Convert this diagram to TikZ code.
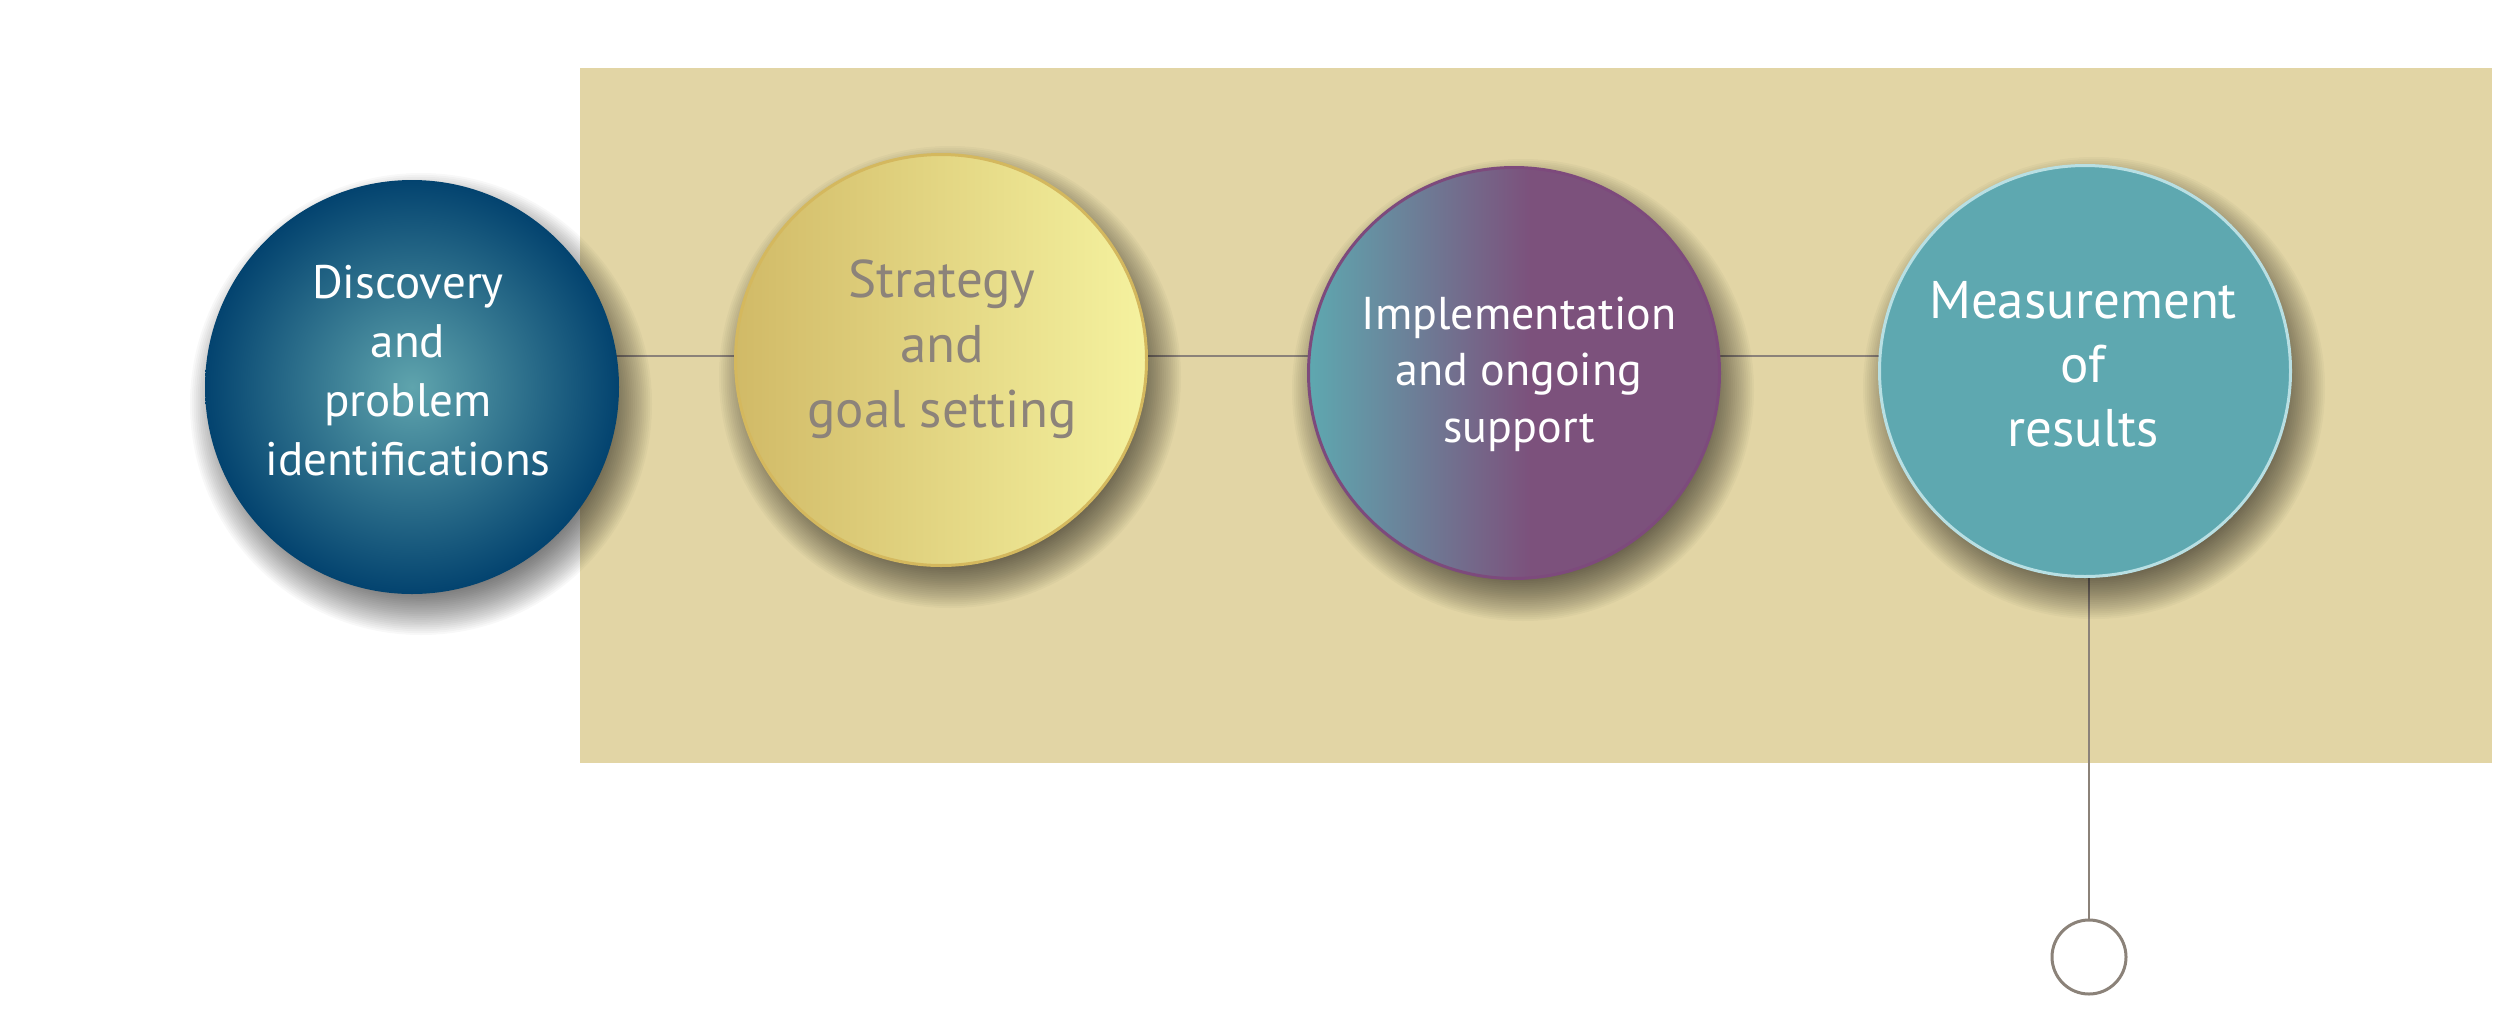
\documentclass[tikz,border=0pt]{standalone}
\usepackage{fontspec}
\setmainfont{PT Sans}
\definecolor{rectbg}{HTML}{E2D5A5}
\definecolor{linegray}{HTML}{8B8279}
\definecolor{discin}{HTML}{5FA4AD}
\definecolor{discout}{HTML}{03436F}
\definecolor{goldL}{HTML}{D1BA67}
\definecolor{goldR}{HTML}{F5F29F}
\definecolor{goldB}{HTML}{D4B85E}
\definecolor{txtgray}{HTML}{8C837A}
\definecolor{implL}{HTML}{5EA8B0}
\definecolor{implR}{HTML}{7C517C}
\definecolor{implB}{HTML}{7D4A7C}
\definecolor{measF}{HTML}{5EA8B0}
\definecolor{measB}{HTML}{B8DFE3}
\pgfdeclarehorizontalshading{implshade}{100bp}{color(0bp)=(implL); color(25bp)=(implL); color(52bp)=(implR); color(100bp)=(implR)}
\begin{document}
\begin{tikzpicture}[x=1pt,y=-1pt,
  stage/.style={circle, minimum size=414pt, inner sep=0pt},
  ringed/.style={minimum size=411pt, line width=3pt},
  conn/.style={draw=linegray, line width=2.5pt},
  lbl/.style={anchor=base, inner sep=0pt},
  shadowstep/.style={fill=black, fill opacity=0.027},
]
\useasboundingbox (0,0) rectangle (2497,1029);
\fill[white] (0,0) rectangle (2497,1029);
\fill[rectbg] (580,68) rectangle (2492,763);

% centres of the stages and of the end mark
\coordinate (pdisc) at (412,387);
\coordinate (pstrat) at (941,360);
\coordinate (pimpl) at (1514,373);
\coordinate (pmeas) at (2085,371);
\coordinate (pend) at (2089,957);
\coordinate (lvl) at (0,356);

% connectors (drawn first so that the circles cover them)
\draw[conn] (pdisc |- lvl) -- (pstrat |- lvl);
\draw[conn] (pstrat |- lvl) -- (pimpl |- lvl);
\draw[conn] (pimpl |- lvl) -- (pmeas |- lvl);
\draw[conn] (pend) -- (pend |- pmeas);

% soft drop shadows
\foreach \p in {pdisc,pstrat,pimpl,pmeas}{
  \foreach \k in {0,...,23}{
    \fill[shadowstep] ([xshift=9pt,yshift=-17pt]\p) circle[radius={231-1.9*\k}];
  }
}

\node[stage, inner color=discin, outer color=discout] (disc) at (pdisc) {};
\node[stage, ringed, left color=goldL, right color=goldR, draw=goldB] (strat) at (pstrat) {};
\node[stage, ringed, shading=implshade, draw=implB] (impl) at (pimpl) {};
\node[stage, ringed, fill=measF, draw=measB] (meas) at (pmeas) {};
\node[circle, draw=linegray, line width=3pt, fill=white, minimum size=74pt, inner sep=0pt] (endc) at (pend) {};

\node[lbl, text=white, font=\fontsize{47}{59}\selectfont] (disct) at (408,298)
  {\begin{tabular}[t]{@{}c@{}}Discovery\\and\\problem\\identifications\end{tabular}};
\node[lbl, text=txtgray, font=\fontsize{53}{65}\selectfont] (stratt) at (942,297)
  {\begin{tabular}[t]{@{}c@{}}Strategy\\and\\goal setting\end{tabular}};
\node[lbl, text=white, font=\fontsize{46}{56.5}\selectfont] (implt) at (1519,329)
  {\begin{tabular}[t]{@{}c@{}}Implementation\\and ongoing\\support\end{tabular}};
\node[lbl, text=white, font=\fontsize{53}{64}\selectfont] (meast) at (2083,318)
  {\begin{tabular}[t]{@{}c@{}}Measurement\\of\\results\end{tabular}};
\end{tikzpicture}
\end{document}
